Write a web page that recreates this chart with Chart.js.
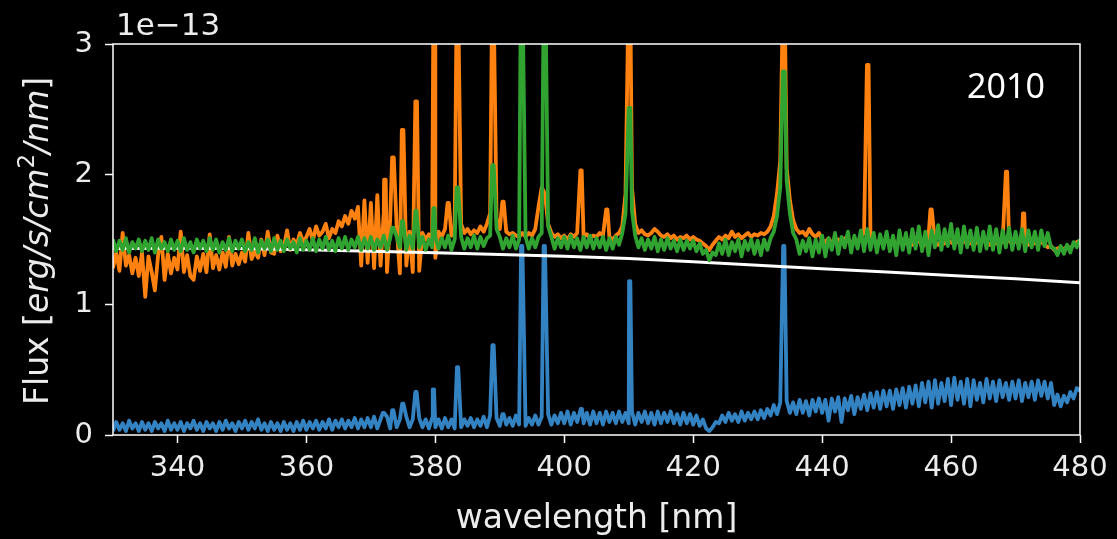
<!DOCTYPE html>
<html lang="en">
<head>
    <meta charset="UTF-8">
    <title>Spectrum 2010</title>
    <script src="https://cdn.jsdelivr.net/npm/chart.js"></script>
    <style>
        body { margin: 0; background: #000; }
        #spectrum { display: block; }
    </style>
</head>
<body>
<canvas id="spectrum" width="1117" height="539"></canvas>
<script>
    // wavelength grid [nm], 0.5 nm steps
    const wavelength = [
        330,330.5,331,331.5,332,332.5,333,333.5,334,334.5,335,335.5,336,336.5,337,337.5,338,338.5,339,339.5,
        340,340.5,341,341.5,342,342.5,343,343.5,344,344.5,345,345.5,346,346.5,347,347.5,348,348.5,349,349.5,
        350,350.5,351,351.5,352,352.5,353,353.5,354,354.5,355,355.5,356,356.5,357,357.5,358,358.5,359,359.5,
        360,360.5,361,361.5,362,362.5,363,363.5,364,364.5,365,365.5,366,366.5,367,367.5,368,368.5,369,369.5,
        370,370.5,371,371.5,372,372.5,373,373.5,374,374.5,375,375.5,376,376.5,377,377.5,378,378.5,379,379.5,
        380,380.5,381,381.5,382,382.5,383,383.5,384,384.5,385,385.5,386,386.5,387,387.5,388,388.5,389,389.5,
        390,390.5,391,391.5,392,392.5,393,393.5,394,394.5,395,395.5,396,396.5,397,397.5,398,398.5,399,399.5,
        400,400.5,401,401.5,402,402.5,403,403.5,404,404.5,405,405.5,406,406.5,407,407.5,408,408.5,409,409.5,
        410,410.5,411,411.5,412,412.5,413,413.5,414,414.5,415,415.5,416,416.5,417,417.5,418,418.5,419,419.5,
        420,420.5,421,421.5,422,422.5,423,423.5,424,424.5,425,425.5,426,426.5,427,427.5,428,428.5,429,429.5,
        430,430.5,431,431.5,432,432.5,433,433.5,434,434.5,435,435.5,436,436.5,437,437.5,438,438.5,439,439.5,
        440,440.5,441,441.5,442,442.5,443,443.5,444,444.5,445,445.5,446,446.5,447,447.5,448,448.5,449,449.5,
        450,450.5,451,451.5,452,452.5,453,453.5,454,454.5,455,455.5,456,456.5,457,457.5,458,458.5,459,459.5,
        460,460.5,461,461.5,462,462.5,463,463.5,464,464.5,465,465.5,466,466.5,467,467.5,468,468.5,469,469.5,
        470,470.5,471,471.5,472,472.5,473,473.5,474,474.5,475,475.5,476,476.5,477,477.5,478,478.5,479,479.5,
        480
    ];

    // flux in units of 1e-13 erg/s/cm2/nm
    const orangeFlux = [
        1.28,1.40,1.26,1.55,1.30,1.38,1.24,1.36,1.22,1.40,1.06,1.37,1.25,1.11,1.38,1.52,1.19,1.39,1.24,1.36,
        1.27,1.56,1.25,1.38,1.22,1.19,1.37,1.26,1.39,1.25,1.54,1.28,1.38,1.27,1.40,1.29,1.52,1.30,1.39,1.31,
        1.40,1.33,1.55,1.35,1.41,1.36,1.50,1.38,1.56,1.40,1.39,1.53,1.41,1.44,1.57,1.42,1.50,1.46,1.55,1.48,
        1.52,1.58,1.49,1.60,1.53,1.56,1.62,1.51,1.58,1.55,1.64,1.60,1.68,1.62,1.72,1.66,1.75,1.30,1.80,1.32,
        1.78,1.28,1.84,1.30,1.70,1.25,1.66,1.28,1.60,1.24,1.58,1.30,1.56,1.25,1.55,1.26,1.55,1.50,1.54,1.48,
        1.36,1.56,1.52,1.58,1.55,1.53,1.60,1.57,1.62,1.55,1.58,1.54,1.57,1.55,1.60,1.56,1.62,1.70,1.75,1.66,
        1.58,1.60,1.56,1.54,1.55,1.53,1.52,1.55,1.52,1.55,1.53,1.58,1.75,1.90,1.85,1.62,1.55,1.52,1.54,1.51,
        1.53,1.50,1.54,1.52,1.55,1.53,1.52,1.54,1.51,1.53,1.52,1.55,1.53,1.54,1.52,1.50,1.53,1.55,1.60,1.85,
        3.30,1.90,1.62,1.55,1.57,1.54,1.53,1.55,1.58,1.56,1.53,1.52,1.54,1.51,1.53,1.50,1.52,1.51,1.53,1.50,
        1.52,1.50,1.49,1.47,1.45,1.42,1.46,1.49,1.52,1.50,1.53,1.51,1.56,1.52,1.54,1.51,1.53,1.55,1.52,1.54,
        1.53,1.55,1.54,1.56,1.60,1.68,1.85,2.10,3.30,2.05,1.80,1.65,1.58,1.55,1.56,1.53,1.58,1.54,1.52,1.55,
        1.50,1.48,1.51,1.47,1.49,1.50,1.48,1.51,1.49,1.47,1.50,1.48,1.52,1.55,1.55,1.53,1.49,1.47,1.50,1.48,
        1.49,1.47,1.50,1.46,1.48,1.50,1.47,1.49,1.46,1.48,1.50,1.44,1.47,1.52,1.50,1.48,1.46,1.49,1.47,1.50,
        1.48,1.46,1.49,1.47,1.50,1.46,1.48,1.45,1.49,1.47,1.50,1.48,1.46,1.49,1.47,1.50,1.48,1.52,1.49,1.47,
        1.49,1.47,1.50,1.48,1.46,1.49,1.47,1.50,1.48,1.46,1.44,1.45,1.42,1.43,1.44,1.42,1.45,1.43,1.46,1.48,
        1.49
    ];
    const greenFlux = [
        1.50,1.41,1.49,1.42,1.51,1.40,1.48,1.43,1.50,1.41,1.49,1.42,1.51,1.40,1.50,1.43,1.48,1.41,1.50,1.42,
        1.49,1.41,1.51,1.42,1.48,1.40,1.50,1.43,1.49,1.41,1.51,1.42,1.50,1.40,1.48,1.42,1.51,1.41,1.49,1.43,
        1.50,1.41,1.48,1.42,1.51,1.40,1.49,1.43,1.50,1.41,1.51,1.42,1.49,1.41,1.50,1.43,1.48,1.40,1.51,1.42,
        1.49,1.42,1.51,1.41,1.50,1.43,1.52,1.42,1.49,1.41,1.51,1.43,1.52,1.42,1.50,1.44,1.52,1.42,1.51,1.43,
        1.52,1.42,1.50,1.44,1.53,1.42,1.51,1.43,1.52,1.44,1.50,1.42,1.53,1.43,1.51,1.44,1.52,1.42,1.50,1.44,
        1.52,1.43,1.51,1.44,1.53,1.42,1.50,1.44,1.52,1.43,1.51,1.44,1.53,1.43,1.52,1.45,1.51,1.53,1.60,1.58,
        1.52,1.43,1.51,1.44,1.53,1.43,1.50,1.44,1.52,1.43,1.51,1.44,1.52,1.55,1.60,1.60,1.52,1.43,1.51,1.44,
        1.52,1.43,1.53,1.44,1.51,1.42,1.52,1.44,1.53,1.43,1.51,1.44,1.52,1.42,1.51,1.43,1.52,1.46,1.55,1.70,
        2.51,1.72,1.53,1.44,1.51,1.42,1.50,1.43,1.52,1.41,1.50,1.42,1.51,1.43,1.49,1.41,1.50,1.42,1.49,1.43,
        1.49,1.41,1.47,1.39,1.42,1.34,1.40,1.38,1.47,1.39,1.50,1.38,1.48,1.41,1.50,1.37,1.49,1.42,1.50,1.39,
        1.49,1.38,1.50,1.42,1.51,1.56,1.68,1.90,2.79,1.95,1.70,1.55,1.50,1.39,1.49,1.41,1.51,1.37,1.50,1.40,
        1.53,1.37,1.51,1.42,1.55,1.39,1.52,1.44,1.56,1.40,1.53,1.43,1.57,1.41,1.58,1.42,1.55,1.40,1.54,1.43,
        1.56,1.41,1.53,1.38,1.57,1.42,1.55,1.40,1.58,1.43,1.60,1.41,1.56,1.38,1.57,1.44,1.61,1.42,1.58,1.45,
        1.62,1.43,1.58,1.40,1.60,1.44,1.57,1.42,1.59,1.41,1.56,1.43,1.60,1.42,1.58,1.40,1.57,1.44,1.59,1.42,
        1.56,1.43,1.58,1.41,1.57,1.44,1.56,1.42,1.57,1.45,1.55,1.44,1.43,1.38,1.45,1.39,1.46,1.40,1.48,1.44,
        1.50
    ];
    const blueFlux = [
        0.03,0.10,0.04,0.09,0.03,0.11,0.05,0.09,0.03,0.10,0.04,0.09,0.03,0.10,0.05,0.09,0.03,0.11,0.04,0.09,
        0.04,0.10,0.03,0.09,0.05,0.11,0.04,0.09,0.03,0.10,0.05,0.09,0.03,0.10,0.04,0.11,0.05,0.09,0.03,0.10,
        0.05,0.11,0.04,0.10,0.05,0.12,0.04,0.09,0.03,0.10,0.04,0.09,0.03,0.10,0.04,0.09,0.03,0.10,0.04,0.11,
        0.04,0.10,0.05,0.11,0.04,0.10,0.05,0.12,0.04,0.11,0.06,0.12,0.05,0.11,0.06,0.13,0.05,0.12,0.06,0.13,
        0.06,0.14,0.05,0.12,0.06,0.14,0.05,0.13,0.06,0.12,0.05,0.14,0.06,0.12,0.05,0.13,0.06,0.12,0.05,0.13,
        0.06,0.12,0.05,0.13,0.06,0.12,0.05,0.14,0.06,0.12,0.07,0.13,0.06,0.12,0.07,0.14,0.06,0.15,0.08,0.13,
        0.07,0.14,0.08,0.13,0.07,0.15,0.08,0.14,0.07,0.13,0.08,0.15,0.08,0.14,0.09,0.16,0.08,0.15,0.09,0.17,
        0.09,0.18,0.08,0.17,0.10,0.19,0.09,0.17,0.08,0.18,0.09,0.17,0.08,0.18,0.10,0.17,0.09,0.18,0.10,0.17,
        0.09,0.18,0.08,0.17,0.10,0.18,0.09,0.17,0.08,0.18,0.09,0.17,0.10,0.18,0.09,0.16,0.08,0.17,0.09,0.16,
        0.08,0.15,0.07,0.12,0.05,0.03,0.06,0.10,0.09,0.15,0.10,0.17,0.11,0.16,0.10,0.18,0.11,0.17,0.12,0.18,
        0.12,0.19,0.13,0.20,0.15,0.23,0.16,0.25,0.20,0.26,0.17,0.25,0.16,0.27,0.17,0.26,0.15,0.27,0.18,0.28,
        0.17,0.27,0.11,0.28,0.18,0.29,0.10,0.28,0.19,0.30,0.16,0.29,0.20,0.31,0.19,0.32,0.21,0.33,0.20,0.34,
        0.22,0.34,0.20,0.35,0.23,0.36,0.21,0.37,0.24,0.38,0.22,0.40,0.25,0.41,0.21,0.42,0.24,0.40,0.26,0.43,
        0.23,0.44,0.27,0.41,0.24,0.43,0.22,0.42,0.27,0.40,0.25,0.43,0.28,0.41,0.26,0.42,0.29,0.40,0.27,0.41,
        0.28,0.42,0.26,0.40,0.29,0.41,0.27,0.42,0.30,0.41,0.28,0.40,0.23,0.31,0.22,0.30,0.25,0.33,0.28,0.36,
        0.34
    ];

    // narrow emission lines: [from nm, to nm, peak flux]
    const orangeLines = [
        [372.05,372.3,1.96],[373.3,373.55,2.13],[374.8,375.05,2.34],[376.9,377.15,2.56],
        [379.7,379.95,3.3],[381.9,382.1,1.78],[383.3,383.55,3.3],[388.8,389.05,3.3],
        [390.4,390.6,1.79],[402.5,402.7,2.03],[406.5,406.7,1.73],[409.95,410.25,3.3],
        [433.9,434.2,3.3],[446.95,447.2,2.84],[456.8,457.0,1.73],[468.5,468.7,2.02],
        [471.15,471.35,1.70]
    ];
    const greenLines = [
        [373.3,373.5,1.59],[374.8,375.0,1.64],[376.9,377.1,1.72],[379.7,379.9,1.74],
        [383.3,383.55,1.90],[388.8,389.05,2.07],[393.25,393.55,3.3],[396.8,397.1,3.3],
        [410.0,410.25,2.51],[433.9,434.2,2.79]
    ];
    const blueLines = [
        [371.85,372.05,0.17],[373.3,373.5,0.19],[374.85,375.05,0.24],[376.9,377.1,0.33],
        [379.6,379.8,0.35],[383.35,383.55,0.52],[388.85,389.05,0.69],[390.4,390.6,0.16],
        [393.3,393.5,1.45],[396.8,397.0,1.45],[402.55,402.75,0.20],[410.05,410.25,1.18],
        [433.95,434.15,1.45]
    ];

    // white reference continuum
    const continuumWl = [330,340,350,360,370,380,390,400,410,420,430,440,450,460,470,480];
    const continuumFlux = [1.43,1.432,1.43,1.422,1.41,1.398,1.385,1.372,1.355,1.33,1.302,1.276,1.25,1.224,1.198,1.168];

    const xTicks = [340,360,380,400,420,440,460,480];
    const yTicks = [0,1,2,3];

    // merge continuum grid with line peaks
    function buildSeries(flux, lines) {
        const pts = [];
        wavelength.forEach((w, i) => {
            if (!lines.some(l => w >= l[0] && w <= l[1])) pts.push({x: w, y: flux[i]});
        });
        lines.forEach(l => {
            pts.push({x: l[0], y: l[2]});
            pts.push({x: l[1], y: l[2]});
        });
        return pts.sort((a, b) => a.x - b.x);
    }

    const textColor = '#ececec';

    const framePlugin = {
        id: 'frame',
        beforeDraw(chart) {
            const ctx = chart.ctx;
            ctx.save();
            ctx.fillStyle = '#000';
            ctx.fillRect(0, 0, chart.width, chart.height);
            ctx.restore();
        },
        afterDraw(chart) {
            const ctx = chart.ctx;
            const a = chart.chartArea;
            ctx.save();
            ctx.strokeStyle = '#fff';
            ctx.lineWidth = 1.5;
            ctx.strokeRect(a.left, a.top, a.right - a.left, a.bottom - a.top);

            ctx.fillStyle = textColor;
            ctx.textBaseline = 'alphabetic';

            // offset text
            ctx.font = '31px "DejaVu Sans"';
            ctx.textAlign = 'left';
            ctx.fillText('1e\u221213', a.left + 3, 35);

            // x label
            ctx.font = '33px "DejaVu Sans"';
            ctx.textAlign = 'center';
            ctx.fillText('wavelength [nm]', (a.left + a.right) / 2, 528);

            // y label with mathtext style part
            ctx.save();
            ctx.translate(48, 405);
            ctx.rotate(-Math.PI / 2);
            ctx.textAlign = 'left';
            const parts = [
                ['Flux [', '33px "DejaVu Sans"', 0],
                ['erg/s/cm', 'italic 33px "DejaVu Sans"', 0],
                ['2', '23px "DejaVu Sans"', -14],
                ['/nm', 'italic 33px "DejaVu Sans"', 0],
                [']', '33px "DejaVu Sans"', 0]
            ];
            let px = 0;
            parts.forEach(p => {
                ctx.font = p[1];
                ctx.fillText(p[0], px, p[2]);
                px += ctx.measureText(p[0]).width;
            });
            ctx.restore();

            // year tag
            ctx.fillStyle = '#fff';
            ctx.font = '34px "Noto Sans"';
            ctx.textAlign = 'center';
            ctx.fillText('2010', 1006, 98);
            ctx.restore();
        }
    };

    const lineStyle = {pointRadius: 0, tension: 0, clip: 0, fill: false, borderJoinStyle: 'round'};

    new Chart(document.getElementById('spectrum'), {
        type: 'line',
        data: {
            datasets: [
                Object.assign({label: 'green', data: buildSeries(greenFlux, greenLines),
                    borderColor: '#31a331', borderWidth: 3.8, order: 0}, lineStyle),
                Object.assign({label: 'continuum', data: continuumWl.map((w, i) => ({x: w, y: continuumFlux[i]})),
                    borderColor: '#ffffff', borderWidth: 3, order: 1}, lineStyle),
                Object.assign({label: 'orange', data: buildSeries(orangeFlux, orangeLines),
                    borderColor: '#ff8210', borderWidth: 3.8, order: 2}, lineStyle),
                Object.assign({label: 'blue', data: buildSeries(blueFlux, blueLines),
                    borderColor: '#3383c3', borderWidth: 3.8, order: 3}, lineStyle)
            ]
        },
        options: {
            responsive: false,
            animation: false,
            devicePixelRatio: 1,
            layout: {padding: {top: 44, right: 37, left: 0, bottom: 0}},
            plugins: {legend: {display: false}, tooltip: {enabled: false}},
            scales: {
                x: {
                    type: 'linear',
                    min: 330,
                    max: 480,
                    afterFit: s => { s.height = 104; },
                    afterBuildTicks: s => { s.ticks = xTicks.map(v => ({value: v})); },
                    grid: {drawOnChartArea: false, tickColor: '#fff', tickLength: 8, tickWidth: 1.5},
                    border: {display: false},
                    ticks: {color: textColor, font: {family: 'DejaVu Sans', size: 29}, padding: 8, maxRotation: 0}
                },
                y: {
                    type: 'linear',
                    min: 0,
                    max: 3,
                    afterFit: s => { s.width = 113; },
                    afterBuildTicks: s => { s.ticks = yTicks.map(v => ({value: v})); },
                    grid: {drawOnChartArea: false, tickColor: '#fff', tickLength: 8, tickWidth: 1.5},
                    border: {display: false},
                    ticks: {color: textColor, font: {family: 'DejaVu Sans', size: 29}, padding: 12}
                }
            }
        },
        plugins: [framePlugin]
    });
</script>
</body>
</html>
